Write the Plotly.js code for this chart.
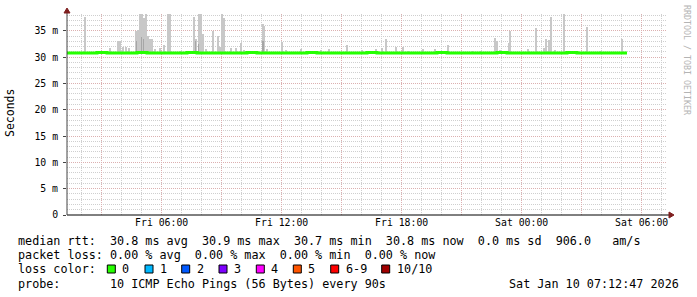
<!DOCTYPE html>
<html>
<head>
<meta charset="utf-8">
<script src="https://cdn.plot.ly/plotly-3.0.1.min.js"></script>
<style>
  html, body { margin: 0; padding: 0; background: #ffffff; }
  #chart { width: 697px; height: 297px; }
</style>
</head>
<body>
<div id="chart"></div>
<script>
// ---------------- data ----------------
const xRange = ["2026-01-09 01:16", "2026-01-10 07:16"];

const yTickVals = [0, 5, 10, 15, 20, 25, 30, 35];
const yTickText = ["0", "5 m", "10 m", "15 m", "20 m", "25 m", "30 m", "35 m"];

const xTickVals = ["2026-01-09 03:00", "2026-01-09 06:00", "2026-01-09 09:00", "2026-01-09 12:00",
                   "2026-01-09 15:00", "2026-01-09 18:00", "2026-01-09 21:00", "2026-01-10 00:00",
                   "2026-01-10 03:00", "2026-01-10 06:00"];
const xTickText = ["", "Fri 06:00", "", "Fri 12:00", "", "Fri 18:00", "", "Sat 00:00", "", "Sat 06:00"];

// median RTT (ms), one value every 30 minutes starting at medianStart
const medianStart = "2026-01-09 01:16";
const medianStepMinutes = 30;
const medianRtt = [30.8, 30.8, 30.8, 30.9, 30.8, 30.8, 30.8, 30.9, 30.8, 30.8,
                   30.8, 30.8, 30.9, 30.8, 30.8, 30.8, 30.8, 30.8, 30.9, 30.8,
                   30.8, 30.8, 30.8, 30.8, 30.9, 30.8, 30.8, 30.8, 30.8, 30.8,
                   30.9, 30.8, 30.8, 30.8, 30.8, 30.8, 30.8, 30.9, 30.8, 30.8,
                   30.8, 30.8, 30.8, 30.9, 30.8, 30.8, 30.8, 30.8, 30.8, 30.8,
                   30.9, 30.8, 30.8, 30.8, 30.8, 30.8, 30.8];
const medianEnd = "2026-01-10 05:03";

// smoke (max ping spread), ms
const minRtt = 30.6;
const smokeTimes = [
  "2026-01-09 02:09", "2026-01-09 03:24", "2026-01-09 03:48", "2026-01-09 03:54", "2026-01-09 04:03",
  "2026-01-09 04:12", "2026-01-09 04:21", "2026-01-09 04:42", "2026-01-09 04:48", "2026-01-09 04:54",
  "2026-01-09 05:00", "2026-01-09 05:06", "2026-01-09 05:12", "2026-01-09 05:18", "2026-01-09 05:24",
  "2026-01-09 05:30", "2026-01-09 05:39", "2026-01-09 05:54", "2026-01-09 06:06", "2026-01-09 06:18",
  "2026-01-09 06:24", "2026-01-09 06:54", "2026-01-09 07:36", "2026-01-09 07:42", "2026-01-09 07:51",
  "2026-01-09 07:57", "2026-01-09 08:03", "2026-01-09 08:12", "2026-01-09 08:33", "2026-01-09 08:48",
  "2026-01-09 08:54", "2026-01-09 09:00", "2026-01-09 09:06", "2026-01-09 09:27", "2026-01-09 09:42",
  "2026-01-09 09:57", "2026-01-09 10:06", "2026-01-09 11:03", "2026-01-09 11:06", "2026-01-09 11:15",
  "2026-01-09 12:00", "2026-01-09 12:12", "2026-01-09 12:57", "2026-01-09 13:57", "2026-01-09 14:21",
  "2026-01-09 15:15", "2026-01-09 16:00", "2026-01-09 16:42", "2026-01-09 17:00", "2026-01-09 17:12",
  "2026-01-09 17:42", "2026-01-09 18:03", "2026-01-09 18:18", "2026-01-09 19:03", "2026-01-09 19:39",
  "2026-01-09 20:18", "2026-01-09 21:33", "2026-01-09 21:57", "2026-01-09 22:39", "2026-01-09 22:45",
  "2026-01-09 22:54", "2026-01-09 23:21", "2026-01-09 23:24", "2026-01-10 00:18", "2026-01-10 00:42",
  "2026-01-10 01:06", "2026-01-10 01:12", "2026-01-10 01:21", "2026-01-10 01:27", "2026-01-10 01:39",
  "2026-01-10 02:06", "2026-01-10 02:24", "2026-01-10 03:15", "2026-01-10 03:54", "2026-01-10 05:00"];
const smokeMax = [
  37.7, 31.8, 33.0, 33.0, 32.0,
  32.0, 31.8, 35.0, 35.2, 38.5,
  38.5, 37.5, 38.5, 34.0, 33.5,
  33.4, 31.5, 31.8, 32.4, 38.5,
  38.5, 31.2, 37.6, 33.5, 38.5,
  38.5, 34.4, 31.5, 35.0, 34.0,
  32.0, 38.5, 37.5, 31.8, 31.8,
  32.7, 31.4, 36.3, 36.0, 31.6,
  32.9, 31.3, 31.6, 31.3, 31.5,
  32.4, 31.3, 31.5, 31.8, 33.5,
  32.0, 32.0, 31.2, 31.5, 31.5,
  32.4, 31.2, 31.2, 33.6, 33.0,
  31.3, 32.7, 35.0, 31.5, 35.6,
  31.8, 33.5, 33.3, 37.7, 31.3,
  38.5, 31.1, 35.8, 31.2, 33.4];

// darker inner smoke band
const innerTimes = ["2026-01-09 04:45", "2026-01-09 05:00", "2026-01-09 05:06", "2026-01-09 07:42",
                    "2026-01-09 07:51", "2026-01-09 11:04"];
const innerMax = [33.0, 33.8, 33.5, 33.0, 32.5, 33.0];

const legendLines = [
  "median rtt:  30.8 ms avg  30.9 ms max  30.7 ms min  30.8 ms now  0.0 ms sd  906.0   am/s",
  "packet loss: 0.00 % avg  0.00 % max  0.00 % min  0.00 % now",
  "loss color:",
  "probe:       10 ICMP Echo Pings (56 Bytes) every 90s"
];
const lossLabels = ["0", "1", "2", "3", "4", "5", "6-9", "10/10"];
const lossColors = ["#26ff00", "#00b8ff", "#0059ff", "#7e00ff", "#ff00ff", "#ff5500", "#ff0000", "#a10000"];
const timestampText = "Sat Jan 10 07:12:47 2026";
const watermark = "RRDTOOL / TOBI OETIKER";

// ---------------- build ----------------
const L = 67, R = 667, T = 14, B = 215, W = 697, H = 297;
const px = x => (x - L) / (R - L);
const py = y => (B - y) / (B - T);
const nb = s => s.replace(/ /g, "\u00a0");
const MONO = "DejaVu Sans Mono";

const t0 = new Date(medianStart.replace(" ", "T") + ":00Z").getTime();
const fmt = ms => new Date(ms).toISOString().slice(0, 16).replace("T", " ");
const medianTimes = medianRtt.map((_, i) => fmt(t0 + i * medianStepMinutes * 60000));
const mX = medianTimes.concat([medianEnd]);
const mY = medianRtt.concat([medianRtt[medianRtt.length - 1]]);

const traces = [
  {
    type: "bar", x: smokeTimes, y: smokeMax.map(v => v - minRtt), base: minRtt,
    width: 330000, marker: { color: "#c8c8c8", line: { width: 0 } }, hoverinfo: "skip"
  },
  {
    type: "bar", x: innerTimes, y: innerMax.map(v => v - minRtt), base: minRtt,
    width: 200000, marker: { color: "#a6a6a6", line: { width: 0 } }, hoverinfo: "skip"
  },
  {
    type: "scatter", mode: "lines", x: mX, y: mY, line: { color: "#26ff00", width: 3, shape: "hv" },
    hoverinfo: "skip"
  }
];

const annotations = [];
const lineY = [241, 255, 269, 283.5];
legendLines.forEach((s, i) => {
  annotations.push({
    xref: "paper", yref: "paper", x: px(16), y: py(lineY[i]), xanchor: "left", yanchor: "middle",
    text: nb(s), showarrow: false, font: { family: MONO, size: 11.75, color: "#000" }
  });
});
const boxLeft = [107.3, 145, 181.7, 219, 256.3, 293.3, 330.7, 381.7];
const shapes = [];
lossLabels.forEach((lab, i) => {
  shapes.push({
    type: "rect", xref: "paper", yref: "paper",
    x0: px(boxLeft[i]), x1: px(boxLeft[i] + 8), y0: py(265), y1: py(273),
    fillcolor: lossColors[i], line: { color: "#000", width: 1 }
  });
  annotations.push({
    xref: "paper", yref: "paper", x: px(boxLeft[i] + 13), y: py(lineY[2]), xanchor: "left", yanchor: "middle",
    text: nb(lab), showarrow: false, font: { family: MONO, size: 11.75, color: "#000" }
  });
});
annotations.push({
  xref: "paper", yref: "paper", x: px(681), y: py(lineY[3]), xanchor: "right", yanchor: "middle",
  text: nb(timestampText), showarrow: false, font: { family: MONO, size: 11.75, color: "#000" }
});
annotations.push({
  xref: "paper", yref: "paper", x: px(10), y: py(113), xanchor: "center", yanchor: "middle",
  text: "Seconds", textangle: -90, showarrow: false, font: { family: MONO, size: 11.5, color: "#000" }
});
annotations.push({
  xref: "paper", yref: "paper", x: px(687), y: py(60), xanchor: "center", yanchor: "middle",
  text: nb(watermark), textangle: 90, showarrow: false, font: { family: MONO, size: 8.3, color: "#b4b4b4" }
});

// axis lines + arrows
shapes.push({ type: "line", xref: "paper", yref: "paper", x0: px(67), x1: px(670), y0: py(215), y1: py(215),
  line: { color: "#000", width: 1 } });
shapes.push({ type: "line", xref: "paper", yref: "paper", x0: px(67), x1: px(67), y0: py(215), y1: py(11),
  line: { color: "#444", width: 1 } });
shapes.push({ type: "path", xref: "paper", yref: "paper",
  path: `M ${px(669)} ${py(212)} L ${px(674)} ${py(215)} L ${px(669)} ${py(218)} Z`,
  fillcolor: "#7f1f1f", line: { color: "#7f1f1f", width: 1 } });
shapes.push({ type: "path", xref: "paper", yref: "paper",
  path: `M ${px(64)} ${py(13)} L ${px(67)} ${py(8)} L ${px(70)} ${py(13)} Z`,
  fillcolor: "#7f1f1f", line: { color: "#7f1f1f", width: 1 } });

const layout = {
  width: W, height: H,
  margin: { l: L, r: W - R, t: T, b: H - B, pad: 0 },
  paper_bgcolor: "#ffffff", plot_bgcolor: "#ffffff",
  showlegend: false, barmode: "overlay", bargap: 0,
  xaxis: {
    type: "date", range: xRange, tickmode: "array", tickvals: xTickVals, ticktext: xTickText,
    showgrid: true, gridcolor: "#dcb0b0", griddash: "1px,1px", gridwidth: 1,
    minor: { dtick: 3600000, showgrid: true, gridcolor: "#cfcfcf", griddash: "1px,1px", gridwidth: 1 },
    showline: false, zeroline: false, ticks: "", fixedrange: true,
    tickfont: { family: MONO, size: 9.8, color: "#000" }
  },
  yaxis: {
    range: [0, 38.2], tickmode: "array", tickvals: yTickVals, ticktext: yTickText,
    showgrid: true, gridcolor: "#dcb0b0", griddash: "1px,1px", gridwidth: 1,
    minor: { dtick: 1, showgrid: true, gridcolor: "#cfcfcf", griddash: "1px,1px", gridwidth: 1 },
    showline: false, zeroline: false, ticks: "outside", ticklen: 3, tickcolor: "#444",
    ticklabelstandoff: 3, fixedrange: true,
    tickfont: { family: MONO, size: 9.8, color: "#000" }
  },
  shapes: shapes,
  annotations: annotations
};

Plotly.newPlot("chart", traces, layout, { staticPlot: true, displayModeBar: false });
</script>
</body>
</html>
